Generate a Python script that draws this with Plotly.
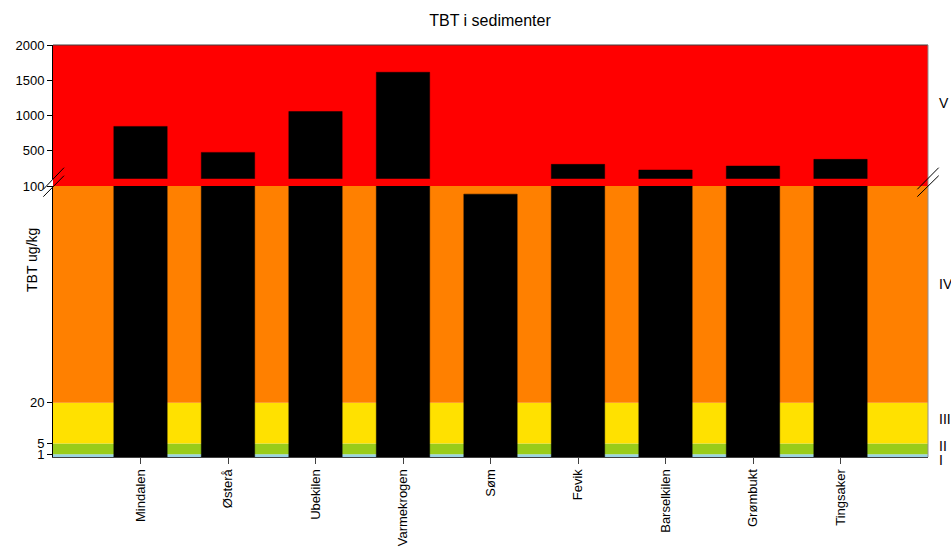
import plotly.graph_objects as go

# ---- data ----
stations = ["Mindalen", "Østerå", "Ubekilen", "Varmekrogen", "Søm",
            "Fevik", "Barselkilen", "Grømbukt", "Tingsaker"]
tbt_values = [844, 475, 1056, 1613, 97, 305, 225, 281, 376]

lower_ticks = [1, 5, 20, 100]
upper_ticks = [500, 1000, 1500, 2000]

# class limits (ug/kg) and colours
class_limits = [0, 1, 5, 20, 100]
class_colors = ["#99D3E3", "#99CC1A", "#FFE100", "#FF8000"]
class_names = ["I", "II", "III", "IV", "V"]
top_color = "#FF0000"

# ---- layout geometry (page pixels) ----
W, H = 951, 555
PLOT_L, PLOT_R, PLOT_T, PLOT_B = 53, 928, 45, 457
ML, MT = PLOT_L, PLOT_T
MR, MB = W - PLOT_R, H - PLOT_B
PW, PH = PLOT_R - PLOT_L, PLOT_B - PLOT_T


def py(pix):
    return (PLOT_B - pix) / PH


def px(pix):
    return (pix - PLOT_L) / PW


lower_dom = [0, py(186)]
upper_dom = [py(178.8), 1]

positions = list(range(1, len(stations) + 1))
lower_vals = [min(v, 100) for v in tbt_values]
upper_vals = [v if v > 100 else None for v in tbt_values]

fig = go.Figure()
bar_style = dict(marker_color="black",
                 marker_line=dict(color="rgba(0,0,0,0.45)", width=1),
                 width=0.61, showlegend=False, hoverinfo="x+y")
fig.add_trace(go.Bar(x=positions, y=lower_vals, yaxis="y", **bar_style))
fig.add_trace(go.Bar(x=positions, y=upper_vals, yaxis="y2", **bar_style))

shapes = []
# top class band (V) filling upper area including the break gap
shapes.append(dict(type="rect", xref="x", yref="paper", x0=0, x1=10,
                   y0=lower_dom[1], y1=1, fillcolor=top_color,
                   line=dict(width=0), layer="below"))
for lo, hi, col in zip(class_limits[:-1], class_limits[1:], class_colors):
    shapes.append(dict(type="rect", xref="x", yref="y", x0=0, x1=10,
                       y0=lo, y1=hi, fillcolor=col, line=dict(width=0),
                       layer="below"))
# frame top and right
shapes.append(dict(type="line", xref="paper", yref="paper", x0=0, x1=1,
                   y0=1, y1=1, line=dict(color="#404040", width=1)))
shapes.append(dict(type="line", xref="paper", yref="paper", x0=1, x1=1,
                   y0=0, y1=1, line=dict(color="#909090", width=1)))
# break marks
for (xa, xb) in [(43.3, 64), (917.3, 938.7)]:
    for (ya, yb) in [(189.3, 167.7), (196.7, 175.7)]:
        shapes.append(dict(type="line", xref="paper", yref="paper",
                           x0=px(xa), x1=px(xb), y0=py(ya), y1=py(yb),
                           line=dict(color="black", width=1)))

font_family = "Liberation Sans, Arial, sans-serif"
annotations = [
    dict(text="TBT ug/kg", xref="paper", yref="paper", x=px(32), y=py(260),
         textangle=-90, showarrow=False, font=dict(size=14, color="black"),
         xanchor="center", yanchor="middle"),
]
label_y = [460, 446, 419, 284, 103]
for name, yy in zip(class_names, label_y):
    annotations.append(dict(text=name, xref="paper", yref="paper",
                            x=px(937), y=py(yy), showarrow=False,
                            xanchor="left", yanchor="middle",
                            font=dict(size=14, color="black")))

fig.update_layout(
    width=W, height=H,
    margin=dict(l=ML, r=MR, t=MT, b=MB, pad=0, autoexpand=False),
    paper_bgcolor="white", plot_bgcolor="white",
    font=dict(family=font_family, size=13, color="black"),
    title=dict(text="TBT i sedimenter", x=px(490), xref="paper",
               xanchor="center", y=1 - 20 / H, yref="container",
               yanchor="middle", font=dict(size=16, color="black")),
    barmode="overlay",
    hovermode=False,
    xaxis=dict(range=[0, 10], tickvals=positions, ticktext=stations,
               tickangle=-90, ticks="outside", ticklen=6,
               tickcolor="#404040", showline=True, linecolor="#404040",
               showgrid=False, zeroline=False, anchor="y",
               automargin=False, tickfont=dict(size=13)),
    yaxis=dict(domain=lower_dom, range=[0, 100], tickvals=lower_ticks,
               ticks="outside", ticklen=5, tickcolor="black",
               showline=True, linecolor="black", showgrid=False,
               zeroline=False, anchor="x", automargin=False),
    yaxis2=dict(domain=upper_dom, range=[100, 2000], tickvals=upper_ticks,
                ticks="outside", ticklen=5, tickcolor="black",
                showline=True, linecolor="black", showgrid=False,
                zeroline=False, anchor="x", automargin=False),
    shapes=shapes,
    annotations=annotations,
)

fig.write_html(
    "out.html",
    config={"displayModeBar": False, "staticPlot": True},
    post_script="document.body.style.margin='0';"
                "document.body.style.overflow='hidden';",
)
